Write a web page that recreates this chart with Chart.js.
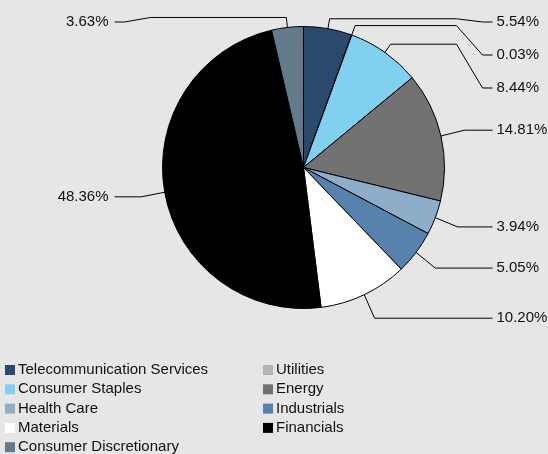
<!DOCTYPE html>
<html>
<head>
<meta charset="utf-8">
<script src="https://cdn.jsdelivr.net/npm/chart.js@4.4.0/dist/chart.umd.min.js"></script>
<style>
  html, body { margin: 0; padding: 0; background: #e6e6e6; }
  canvas { display: block; }
</style>
</head>
<body>
<canvas id="myChart" width="548" height="454"></canvas>
<script>
var sectors = [
  "Telecommunication Services",
  "Utilities",
  "Consumer Staples",
  "Energy",
  "Health Care",
  "Industrials",
  "Materials",
  "Financials",
  "Consumer Discretionary"
];

var weights = [5.54, 0.03, 8.44, 14.81, 3.94, 5.05, 10.20, 48.36, 3.63];

var colors = [
  "#2b4a6b",
  "#b3b3b3",
  "#82d0f0",
  "#727272",
  "#8fadc9",
  "#5682ad",
  "#ffffff",
  "#000000",
  "#627a8b"
];

var labelFont = "15px 'Liberation Sans', Arial, sans-serif";

// leader lines and percentage labels
var leaderPlugin = {
  id: "leaders",
  afterDatasetsDraw: function(chart) {

    var ctx = chart.ctx;
    var arcs = chart.getDatasetMeta(0).data;
    var right = [];
    var left = [];

    for (var i = 0; i < arcs.length; i++) {

      var a = arcs[i];
      var mid = (a.startAngle + a.endAngle) / 2;
      var item = {
        i: i,
        mid: mid,
        cx: a.x,
        cy: a.y,
        r: a.outerRadius,
        natural: a.y + (a.outerRadius + 26) * Math.sin(mid)
      };

      if (Math.cos(mid) >= 0) {
        right.push(item);
      } else {
        left.push(item);
      }
    }

    placeLabels(right);
    placeLabels(left);

    ctx.save();
    ctx.strokeStyle = "#000";
    ctx.lineWidth = 1;
    ctx.fillStyle = "#111";
    ctx.font = labelFont;
    ctx.textBaseline = "middle";

    drawSide(ctx, right, 1);
    drawSide(ctx, left, -1);

    ctx.restore();
  }
};

function placeLabels(items) {

  items.sort(function(p, q) { return p.natural - q.natural; });

  var prev = -1000;

  for (var i = 0; i < items.length; i++) {

    var y = Math.max(items[i].natural, 22, prev + 33);
    items[i].y = y;
    prev = y;
  }
}

function drawSide(ctx, items, dir) {

  for (var i = 0; i < items.length; i++) {

    var it = items[i];
    var c = Math.cos(it.mid);
    var s = Math.sin(it.mid);
    var ex = it.cx + it.r * c;
    var ey = it.cy + it.r * s;
    var endX = it.cx + dir * 189;

    ctx.beginPath();
    ctx.moveTo(ex, ey);

    if (it.y - it.natural > 5) {

      var kx = it.cx + (it.r + 10) * c;
      var ky = it.cy + (it.r + 10) * s;
      ctx.lineTo(kx, ky);
      ctx.lineTo(it.cx + dir * 153, ky);
      ctx.lineTo(it.cx + dir * 179, it.y);
    } else {

      ctx.lineTo(it.cx + (it.r + 24) * c, it.y);
    }

    ctx.lineTo(endX, it.y);
    ctx.stroke();

    var txt = weights[it.i].toFixed(2) + "%";

    if (dir > 0) {
      ctx.textAlign = "left";
      ctx.fillText(txt, endX + 4, it.y);
    } else {
      ctx.textAlign = "right";
      ctx.fillText(txt, endX - 6, it.y);
    }
  }
}

// two column legend under the pie
var legendPlugin = {
  id: "sideLegend",
  afterDraw: function(chart) {

    var ctx = chart.ctx;
    ctx.save();
    ctx.font = labelFont;
    ctx.textBaseline = "middle";
    ctx.textAlign = "left";

    for (var i = 0; i < sectors.length; i++) {

      var col = i % 2;
      var row = Math.floor(i / 2);
      var x = col == 0 ? 5 : 263;
      var y = 370 + row * 19.3;

      ctx.fillStyle = colors[i];
      ctx.fillRect(x, y - 5, 10, 10);
      ctx.fillStyle = "#111";
      ctx.fillText(sectors[i], x + 13, y);
    }

    ctx.restore();
  }
};

var ctx = document.getElementById("myChart");
var myChart = new Chart(ctx, {
  type: "pie",
  data: {
    labels: sectors,
    datasets: [
      {
        data: weights,
        backgroundColor: colors,
        borderColor: "#000",
        borderWidth: 1
      }
    ]
  },
  options: {
    responsive: false,
    animation: false,
    devicePixelRatio: 1,
    layout: {
      padding: { left: 162, right: 103, top: 26, bottom: 145 }
    },
    plugins: {
      legend: { display: false },
      tooltip: { enabled: false }
    }
  },
  plugins: [leaderPlugin, legendPlugin]
});
</script>
</body>
</html>
